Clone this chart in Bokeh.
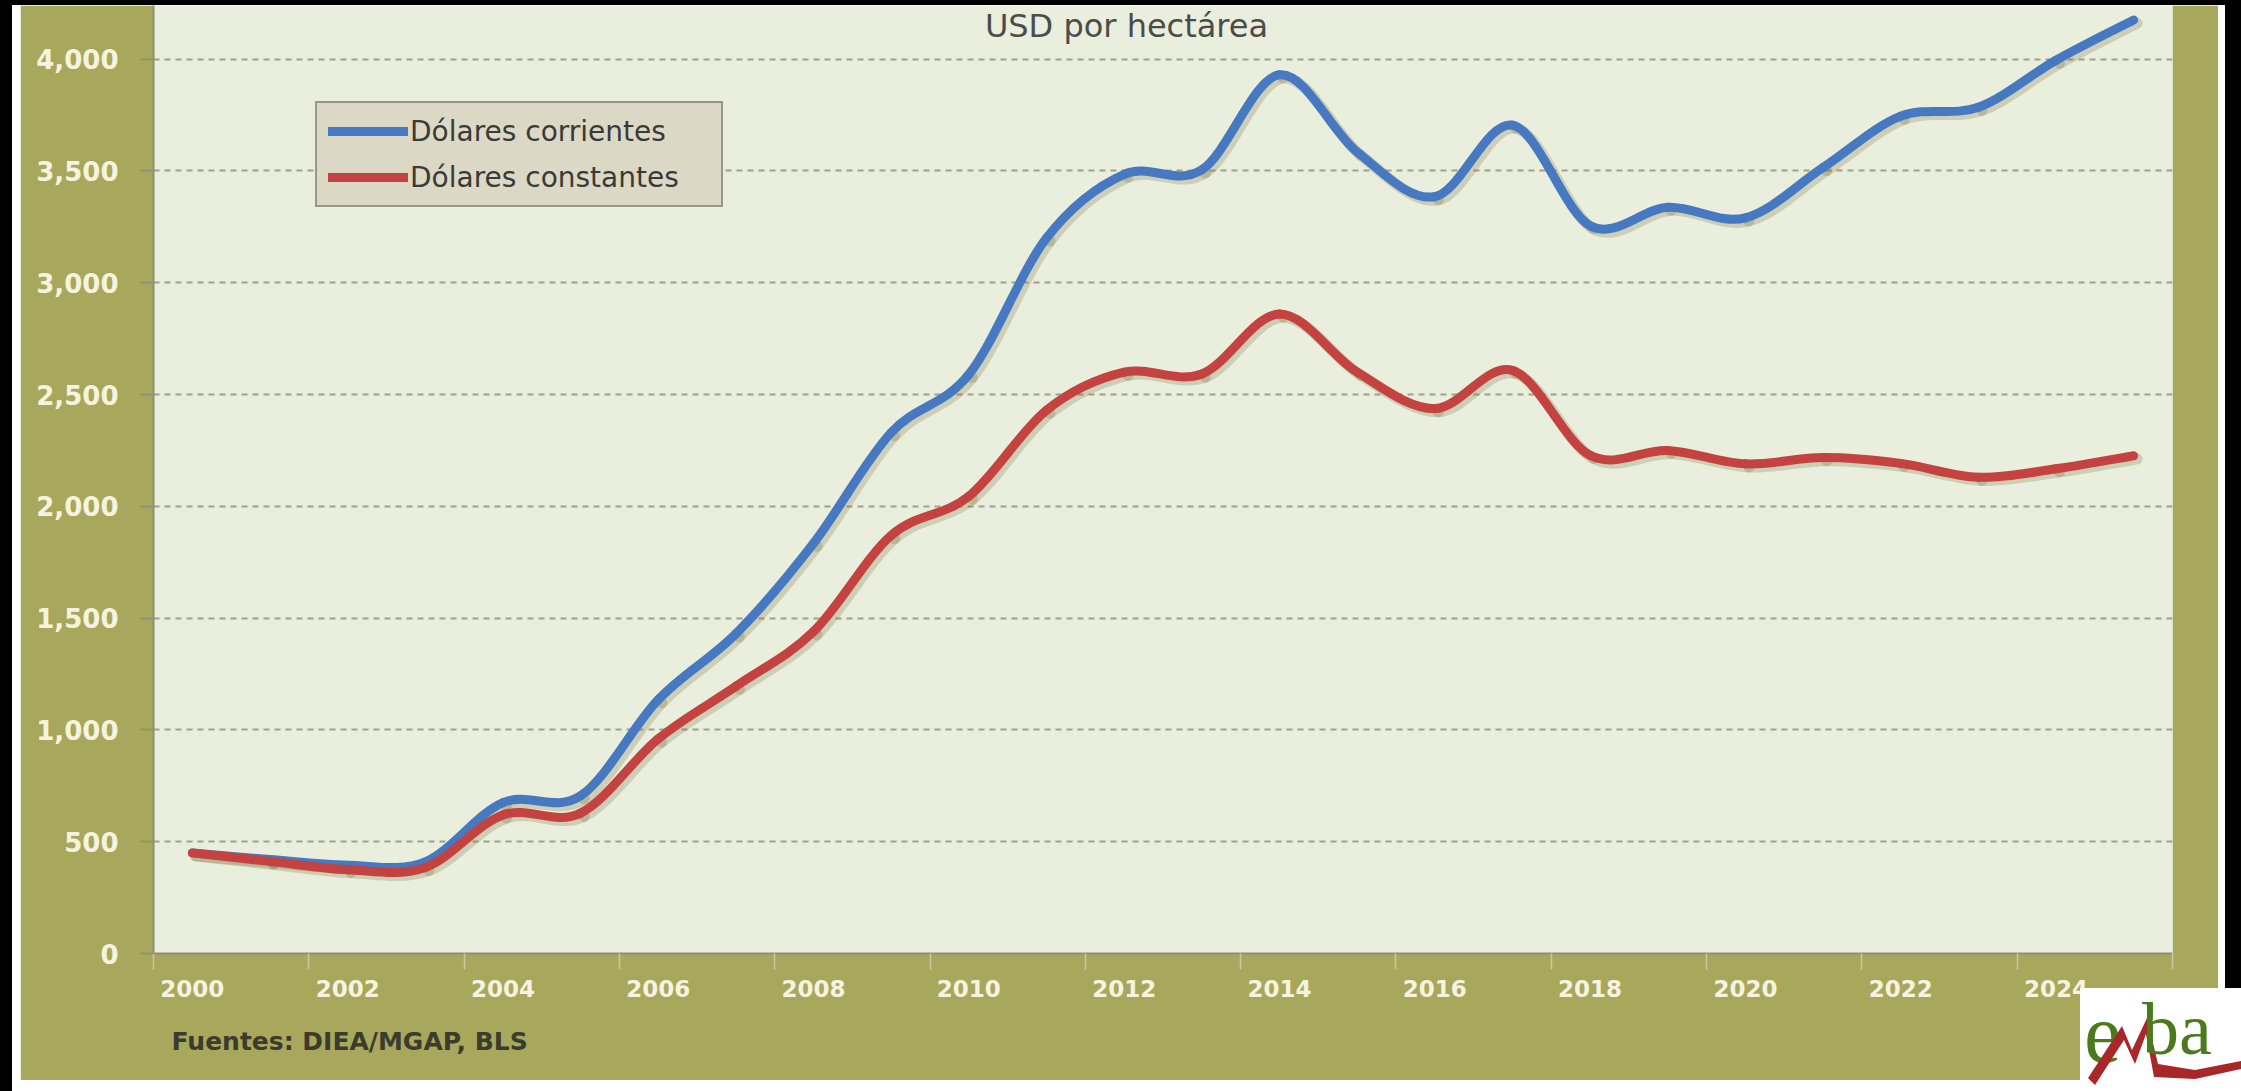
import numpy as np
from bokeh.plotting import figure
from bokeh.layouts import column
from bokeh.models import (Range1d, FixedTicker, NumeralTickFormatter, Legend, LegendItem,
                          Label, Title, Div)
from bokeh.embed import file_html
from bokeh.resources import INLINE

# Land price, USD per hectare
years = list(range(2000, 2026))
corrientes = [450, 420, 395, 410, 675, 705, 1135, 1430, 1835, 2330, 2590, 3200, 3485,
              3505, 3930, 3585, 3385, 3705, 3255, 3338, 3290, 3515, 3745, 3785, 3995, 4175]
constantes = [450, 412, 375, 385, 620, 628, 960, 1195, 1440, 1870, 2045, 2430, 2600,
              2592, 2860, 2600, 2437, 2608, 2228, 2250, 2190, 2218, 2192, 2130, 2168, 2226]
year_ticks = list(range(2000, 2026, 2))
value_ticks = list(range(0, 4001, 500))
series_names = ["Dólares corrientes", "Dólares constantes"]

OLIVE = "#a8a85c"
PLOT_BG = "#e9eedd"
BLUE = "#4679c2"
RED = "#c4423f"
TICK_TEXT = "#f6f4e0"


def smooth_segments(xs, ys, dx=0.0, dy=0.0):
    """Cubic Bezier pieces through every point (Catmull-Rom style smoothing)."""
    x = np.asarray(xs, dtype=float) + dx
    y = np.asarray(ys, dtype=float) + dy
    n = len(x)
    seg = {k: [] for k in ("x0", "y0", "x1", "y1", "cx0", "cy0", "cx1", "cy1")}
    for i in range(n - 1):
        ip, inx, inn = max(i - 1, 0), i + 1, min(i + 2, n - 1)
        seg["x0"].append(x[i]); seg["y0"].append(y[i])
        seg["x1"].append(x[inx]); seg["y1"].append(y[inx])
        seg["cx0"].append(x[i] + (x[inx] - x[ip]) / 6.0)
        seg["cy0"].append(y[i] + (y[inx] - y[ip]) / 6.0)
        seg["cx1"].append(x[inx] - (x[inn] - x[i]) / 6.0)
        seg["cy1"].append(y[inx] - (y[inn] - y[i]) / 6.0)
    return seg


p = figure(width=2198, height=1075,
           x_range=Range1d(1999.5, 2025.5), y_range=Range1d(0, 4240),
           output_backend="svg", toolbar_location=None,
           min_border_left=133, min_border_right=46, min_border_top=0, min_border_bottom=125,
           background_fill_color=PLOT_BG, border_fill_color=OLIVE,
           outline_line_color=None, margin=(0, 7, 11, 8))

# x axis: labels on even years, small ticks on the category boundaries
p.xaxis.ticker = FixedTicker(ticks=year_ticks,
                             minor_ticks=[t - 0.5 for t in year_ticks] + [2025.5])
p.xaxis.major_tick_line_color = None
p.xaxis.major_tick_out = 0
p.xaxis.major_tick_in = 0
p.xaxis.minor_tick_line_color = "#c9c7a4"
p.xaxis.minor_tick_line_width = 1.5
p.xaxis.minor_tick_out = 16
p.xaxis.minor_tick_in = 0
p.xaxis.major_label_standoff = 10
p.xaxis.major_label_text_font_size = "23px"

p.yaxis.ticker = FixedTicker(ticks=value_ticks)
p.yaxis.formatter = NumeralTickFormatter(format="0,0")
p.yaxis.major_tick_line_color = "#8c8c78"
p.yaxis.major_tick_line_width = 1.5
p.yaxis.major_tick_out = 13
p.yaxis.major_tick_in = 0
p.yaxis.minor_tick_line_color = None
p.yaxis.major_label_standoff = 22
p.yaxis.major_label_text_font_size = "26px"

for ax in (p.xaxis, p.yaxis):
    ax.axis_line_color = "#8e8e72"
    ax.axis_line_width = 2
    ax.major_label_text_font = "DejaVu Sans"
    ax.major_label_text_font_style = "bold"
    ax.major_label_text_color = TICK_TEXT

p.xgrid.visible = False
p.ygrid.grid_line_color = "#9f9f8b"
p.ygrid.grid_line_width = 2
p.ygrid.grid_line_dash = "6 5"

# soft drop shadow under each curve
dx_shadow = 0.045
dy_shadow = -14
for vals in (corrientes, constantes):
    p.bezier(**smooth_segments(years, vals, dx_shadow, dy_shadow),
             line_color="#77703e", line_alpha=0.25, line_width=11, line_cap="round")

r_blue = p.bezier(**smooth_segments(years, corrientes),
                  line_color=BLUE, line_width=9, line_cap="round")
r_red = p.bezier(**smooth_segments(years, constantes),
                 line_color=RED, line_width=9, line_cap="round")

legend = Legend(items=[LegendItem(label=series_names[0], renderers=[r_blue]),
                       LegendItem(label=series_names[1], renderers=[r_red])],
                location=(162, 746), orientation="vertical",
                background_fill_color="#dcd8c6", background_fill_alpha=1.0,
                border_line_color="#55554a", border_line_width=2,
                padding=11, spacing=12, margin=0,
                glyph_width=80, glyph_height=34, label_height=34, label_width=300,
                label_standoff=2, label_text_font="DejaVu Sans",
                label_text_font_size="28px", label_text_color="#3a3a36")
p.add_layout(legend)

p.add_layout(Label(x=973, y=928, x_units="screen", y_units="screen",
                   text="USD por hectárea", text_align="center", text_baseline="middle",
                   text_font="DejaVu Sans", text_font_size="32px", text_color="#4c4c4a"))

p.add_layout(Title(text="Fuentes: DIEA/MGAP, BLS", align="left", offset=18, standoff=50,
                   text_font="DejaVu Sans", text_font_style="bold", text_font_size="25px",
                   text_color="#3b3b2e"), "below")

# logo in the lower right corner
logo_html = """
<div style="position:relative;width:166px;height:108px;background:#ffffff;">
  <span style="position:absolute;left:4px;top:4px;font-family:'Liberation Serif';font-size:84px;line-height:84px;color:#4b7a1e;">e</span>
  <svg style="position:absolute;left:0;top:0" width="166" height="108">
    <polygon points="8,90 42,38 52,62 67,30 78,76 115,82 166,72 166,80 115,91 74,89 66,46 55,76 44,52 15,97" fill="#a8282a"/>
  </svg>
  <span style="position:absolute;left:62px;top:4px;font-family:'Liberation Serif';font-size:74px;line-height:74px;color:#4b7a1e;">ba</span>
</div>
"""
logo = Div(text=logo_html, width=166, height=108,
           styles={"position": "absolute", "left": "2075px", "top": "983px", "z-index": "10"})

inner = column(p, margin=(5, 16, 0, 12), styles={"background-color": "white"})
root = column(inner, logo, margin=0, styles={"background-color": "black"})

open("out.html", "w").write(file_html(root, INLINE))
